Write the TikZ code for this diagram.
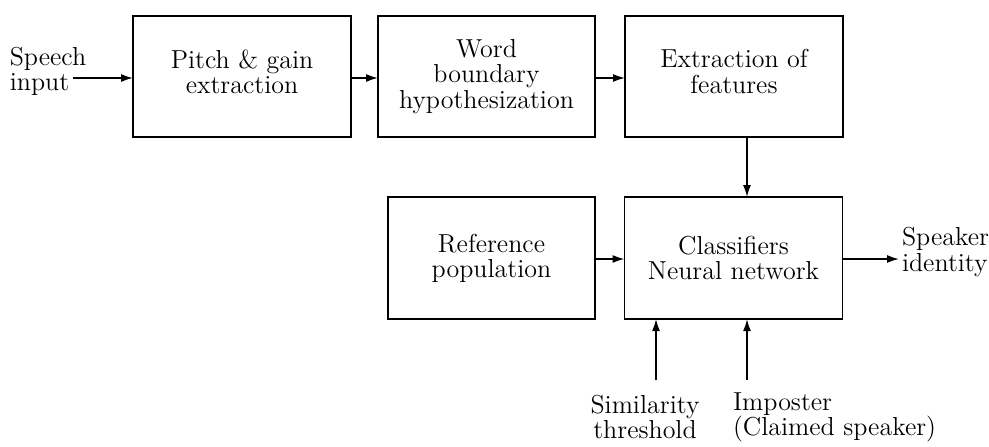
\documentclass[tikz,border=0pt]{standalone}
\usetikzlibrary{arrows.meta}
\begin{document}
\begin{tikzpicture}[x=0.5pt,y=-0.5pt,
  every node/.style={font=\fontsize{13}{12.6}\selectfont},
  blk/.style={draw,line width=0.8pt,rectangle,inner sep=0pt,outer sep=0pt,align=center},
  lbl/.style={inner sep=0pt,outer sep=0pt},
  conn/.style={line width=0.8pt,-{Latex[length=6pt,width=4pt]}}]
\useasboundingbox (0,0) rectangle (989,446);
\node[blk,minimum width=109pt,minimum height=60.5pt,
  label={[lbl,align=center,yshift=2.5pt]center:{Pitch \& gain\\extraction}}] (b1) at (242,76.5) {};
\node[blk,minimum width=108.5pt,minimum height=60.5pt] (b2) at (486.5,76.5) {Word\\boundary\\hypothesization};
\node[blk,minimum width=109pt,minimum height=60.5pt,
  label={[lbl,align=center,yshift=2.5pt]center:{Extraction of\\features}}] (b3) at (734,76.5) {};
\node[blk,minimum width=103.5pt,minimum height=61pt] (ref) at (491.5,258) {Reference\\population};
\node[blk,minimum width=109pt,minimum height=61pt] (cls) at (733.5,258) {Classifiers\\Neural network};
\node[lbl,align=left] (sp) at (48,71) {Speech\\input};
\coordinate (spout) at (73,78);
\node[lbl,align=left,anchor=west] (id) at (902,252) {Speaker\\identity};
\coordinate (idin) at (899,259);
\node[lbl,align=center] (sim) at (645,417) {Similarity\\threshold};
\coordinate (simout) at (656,380);
\node[lbl,align=left,anchor=west] (imp) at (733,417) {Imposter\\(Claimed speaker)};
\coordinate (impout) at (747,380);
\draw[conn] (spout) -- (spout -| b1.west);
\draw[conn] (b1.east |- spout) -- (b2.west |- spout);
\draw[conn] (b2.east |- spout) -- (b3.west |- spout);
\draw[conn] (b3.south -| impout) -- (cls.north -| impout);
\draw[conn] (ref.east |- idin) -- (cls.west |- idin);
\draw[conn] (cls.east |- idin) -- (idin);
\draw[conn] (simout) -- (simout |- cls.south);
\draw[conn] (impout) -- (impout |- cls.south);
\end{tikzpicture}
\end{document}
